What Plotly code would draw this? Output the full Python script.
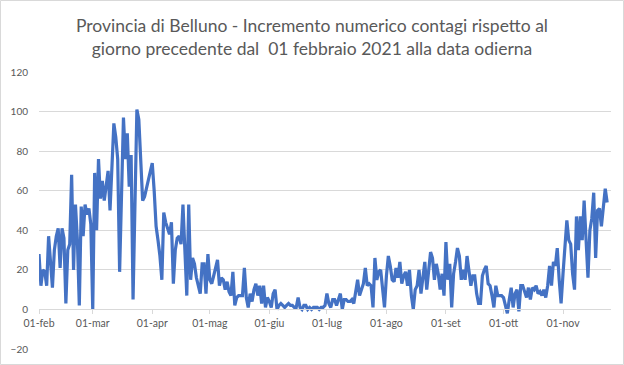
import datetime as dt
import plotly.graph_objects as go

start_date = "2021-02-01"
values = [
    # feb
    28, 12, 20, 19, 12, 37, 24, 11, 30, 37, 41, 21, 41, 36, 3, 30, 33, 68, 20, 53,
    35, 2, 52, 37, 53, 48, 51, 43,
    # mar
    0, 69, 40, 76, 56, 65, 55, 62, 70, 50, 75, 94, 87, 76, 19, 60, 97, 76, 89, 62,
    78, 5, 55, 101, 96, 78, 55, 57, 61, 65, 70,
    # apr
    74, 60, 42, 35, 27, 15, 49, 44, 41, 38, 44, 13, 30, 36, 37, 33, 53, 30, 7, 53,
    15, 26, 23, 16, 12, 8, 23, 23, 8, 28,
    # mag
    15, 13, 17, 22, 25, 12, 16, 15, 10, 14, 9, 7, 19, 2, 6, 7, 7, 7, 21, 6,
    1, 8, 4, 10, 13, 7, 12, 3, 12, 1, 6,
    # giu
    4, 1, 8, 10, 0, 2, 3, 2, 1, 2, 3, 2, 2, 1, 1, 6, 1, 0, 2, 2,
    0, 1, 0, 1, 1, 1, 0, 1, 1, 2,
    # lug
    8, 3, 1, 5, 5, 2, 5, 8, 0, 5, 5, 4, 4, 5, 3, 8, 15, 7, 10, 13,
    21, 12, 13, 12, 1, 26, 15, 19, 20, 10, 1,
    # ago
    17, 27, 22, 15, 14, 21, 16, 24, 13, 17, 19, 12, 20, 7, 0, 10, 12, 20, 8, 15,
    24, 10, 18, 29, 26, 15, 23, 18, 10, 18, 7,
    # set
    34, 15, 23, 1, 18, 24, 31, 27, 15, 20, 15, 27, 20, 12, 17, 17, 8, 3, 3, 17,
    20, 22, 13, 12, 7, 1, 12, 7, 7, 7,
    # ott
    6, 2, -2, 5, 11, 1, 8, 10, -1, 12, 12, 9, 6, 11, 5, 11, 10, 12, 8, 9,
    7, 10, 6, 12, 22, 12, 24, 22, 31, 15, 3,
    # nov
    18, 32, 45, 35, 33, 18, 10, 47, 30, 47, 35, 55, 34, 16, 40, 46, 59, 26, 50, 51,
    42, 52, 61, 54,
]

tick_dates = ["2021-02-01", "2021-03-01", "2021-04-01", "2021-05-01", "2021-06-01",
              "2021-07-01", "2021-08-01", "2021-09-01", "2021-10-01", "2021-11-01"]
tick_labels = ["01-feb", "01-mar", "01-apr", "01-mag", "01-giu",
               "01-lug", "01-ago", "01-set", "01-ott", "01-nov"]
y_ticks = [-20, 0, 20, 40, 60, 80, 100, 120]

d0 = dt.date.fromisoformat(start_date)
dates = [(d0 + dt.timedelta(days=i)).isoformat() for i in range(len(values))]

W, H = 624, 365
ML, MR, MT, MB = 39, 13, 72, 16
PW, PH = W - ML - MR, H - MT - MB

FONT = "Lato"
GRID = "#d9d9d9"
TXT = "#595959"

fig = go.Figure()
fig.add_trace(go.Scatter(x=dates, y=values, mode="lines",
                         line=dict(color="#4472C4", width=3.2),
                         hoverinfo="x+y", showlegend=False))

fig.update_layout(
    width=W, height=H,
    margin=dict(l=ML, r=MR, t=MT, b=MB, pad=0, autoexpand=False),
    paper_bgcolor="white", plot_bgcolor="white",
    font=dict(family=FONT, color=TXT, size=10),
    title=dict(
        text="Provincia di Belluno - Incremento numerico contagi rispetto al<br>"
             "giorno precedente dal \u00a001 febbraio 2021 alla data odierna",
        x=0.5, xanchor="center", xref="container",
        y=1 - 32 / H, yanchor="top", yref="container",
        font=dict(family=FONT, size=17.5, color=TXT),
        automargin=False,
    ),
    xaxis=dict(
        type="date",
        range=["2021-02-01", "2021-11-26"],
        tickvals=tick_dates, ticktext=tick_labels,
        showgrid=False, showline=True, linecolor=GRID, linewidth=1,
        ticks="outside", ticklen=4, tickcolor=GRID,
        anchor="free", position=20 / 140,
        tickfont=dict(size=10.5, color=TXT, family=FONT),
        zeroline=False, automargin=False,
    ),
    yaxis=dict(
        range=[-20, 120], tickvals=y_ticks,
        showgrid=True, gridcolor=GRID, gridwidth=1,
        zeroline=True, zerolinecolor=GRID, zerolinewidth=1,
        showline=False, ticks="", ticklabelstandoff=10,
        tickfont=dict(size=10, color=TXT, family=FONT),
        automargin=False,
    ),
    shapes=[dict(type="rect", xref="paper", yref="paper",
                 x0=(-ML + 0.5) / PW, x1=1 + (MR - 0.5) / PW,
                 y0=(-MB + 0.5) / PH, y1=1 + (MT - 0.5) / PH,
                 line=dict(color=GRID, width=1), layer="below")],
)

fig.write_html("out.html",
               config={"displayModeBar": False},
               post_script="document.body.style.margin='0';document.body.style.padding='0';")
